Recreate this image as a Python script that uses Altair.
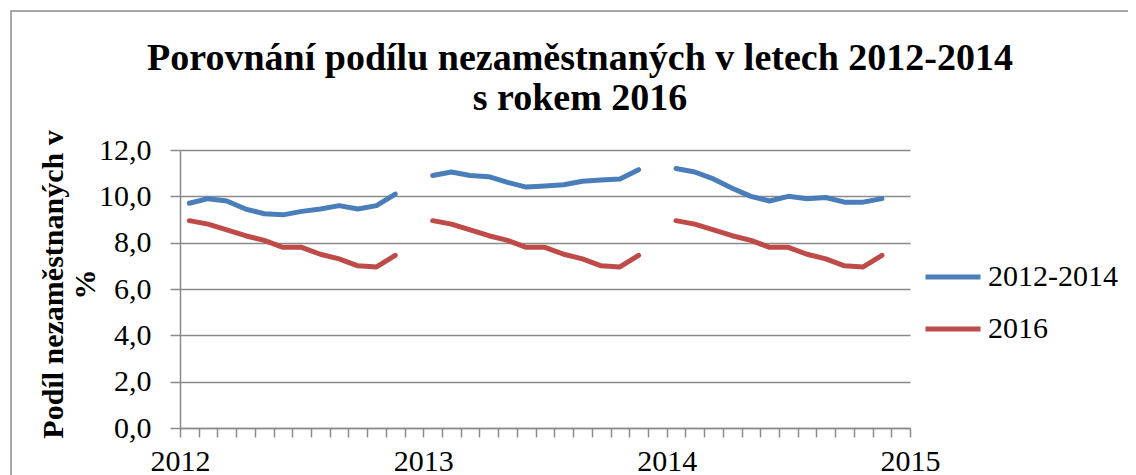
import altair as alt
import pandas as pd

# ---- data ----
years = [2012, 2013, 2014]
months = list(range(1, 13))
blue_2012 = [9.7, 9.9, 9.8, 9.45, 9.25, 9.2, 9.35, 9.45, 9.6, 9.45, 9.6, 10.1]
blue_2013 = [10.9, 11.05, 10.9, 10.85, 10.6, 10.4, 10.45, 10.5, 10.65, 10.7, 10.75, 11.15]
blue_2014 = [11.2, 11.05, 10.75, 10.35, 10.0, 9.8, 10.0, 9.9, 9.95, 9.75, 9.75, 9.9]
red_2016 = [8.95, 8.8, 8.55, 8.3, 8.1, 7.8, 7.8, 7.5, 7.3, 7.0, 6.95, 7.45]
series_names = ["2012-2014", "2016"]
series_colors = ["#4A7EBB", "#BE4B48"]
x_tick_years = [2012, 2013, 2014, 2015]

rows = []
for yr, blue in zip(years, [blue_2012, blue_2013, blue_2014]):
    for m, b, r in zip(months, blue, red_2016):
        pos = yr + (m - 0.5) / 13  # Excel category slots: 12 months + 1 empty per year
        rows.append({"series": series_names[0], "seg": f"a{yr}", "pos": pos, "value": b})
        rows.append({"series": series_names[1], "seg": f"b{yr}", "pos": pos, "value": r})
df = pd.DataFrame(rows)

tick_values = [x_tick_years[0] + k / 13 for k in range(40)]

FONT = "Liberation Serif"
GRAY = "#8a8a8a"
W, H = 730, 278

frame = alt.Chart(pd.DataFrame({"f": [0]})).mark_rect(
    filled=False, stroke=GRAY, strokeWidth=1.5
).encode(
    x=alt.value(-169), x2=alt.value(1400), y=alt.value(-139), y2=alt.value(900)
)

lines = alt.Chart(df).mark_line(strokeWidth=5, strokeCap="round", strokeJoin="round").encode(
    x=alt.X(
        "pos:Q",
        scale=alt.Scale(domain=[2012, 2015], nice=False, zero=False),
        axis=alt.Axis(
            values=tick_values,
            labelExpr="abs(datum.value - round(datum.value)) < 0.001 ? format(round(datum.value), 'd') : ''",
            labelOverlap=False,
            grid=False,
            title=None,
            tickSize=9,
            labelPadding=9,
            labelFontSize=30,
            labelFlush=False,
        ),
    ),
    y=alt.Y(
        "value:Q",
        scale=alt.Scale(domain=[0, 12], nice=False),
        axis=alt.Axis(
            values=[0, 2, 4, 6, 8, 10, 12],
            labelExpr="replace(format(datum.value, '.1f'), '.', ',')",
            title=["Podíl nezaměstnaných v", "%"],
            titleAngle=-90,
            titleAlign="center",
            titleBaseline="alphabetic",
            titleX=-118,
            titleY=134,
            titleLineHeight=32,
            titleFontSize=30,
            titleFontWeight="bold",
            tickSize=10,
            labelPadding=19,
            labelFontSize=30,
            grid=True,
        ),
    ),
    color=alt.Color(
        "series:N",
        scale=alt.Scale(domain=series_names, range=series_colors),
        legend=alt.Legend(
            title=None,
            orient="none",
            legendX=743,
            legendY=97,
            symbolType="stroke",
            symbolSize=3025,
            symbolStrokeWidth=5,
            labelFontSize=30,
            labelOffset=5,
            rowPadding=7,
            padding=0,
        ),
    ),
    detail="seg:N",
)

chart = alt.layer(frame, lines).properties(
    width=W,
    height=H,
    autosize=alt.AutoSizeParams(type="none"),
    padding={"left": 172, "top": 142, "right": 218, "bottom": 47},
    title=alt.TitleParams(
        text=["Porovnání podílu nezaměstnaných v letech 2012-2014", "s rokem 2016"],
        anchor="middle",
        fontSize=38,
        font=FONT,
        fontWeight="bold",
        color="black",
        lineHeight=40,
        dx=35,
        dy=112,
    ),
).configure_view(stroke=None).configure_axis(
    labelFont=FONT,
    titleFont=FONT,
    labelColor="black",
    titleColor="black",
    domainColor=GRAY,
    domainWidth=1.5,
    tickColor=GRAY,
    tickWidth=1.5,
    gridColor=GRAY,
    gridWidth=1.5,
).configure_legend(
    labelFont=FONT, labelColor="black"
)

chart.save("out.html", embed_options={"renderer": "svg", "actions": False})
